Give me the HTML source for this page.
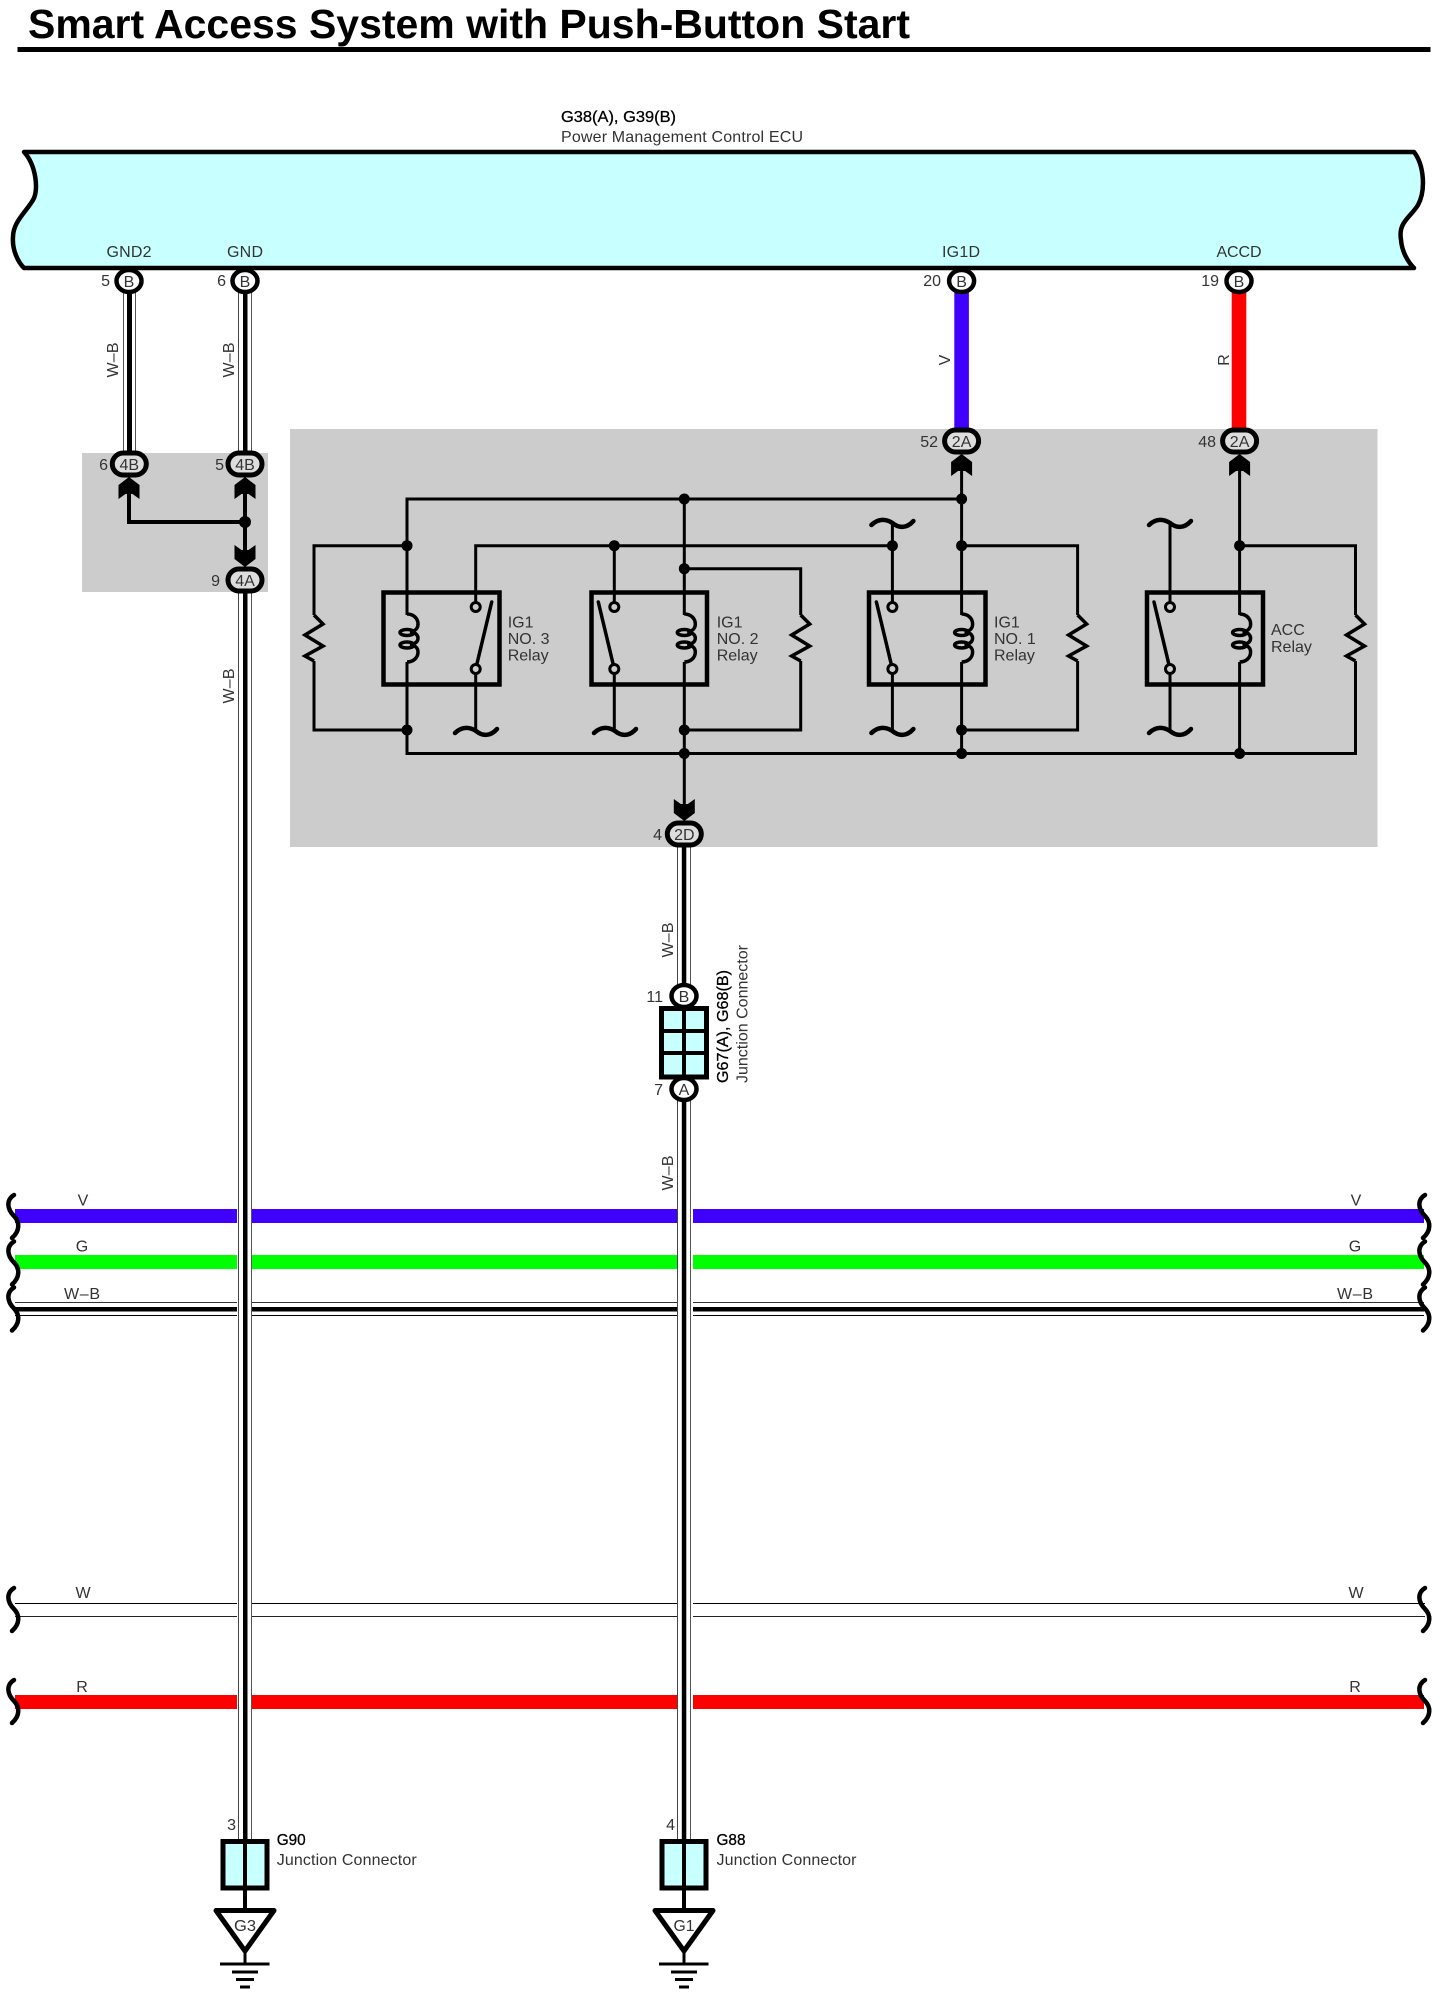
<!DOCTYPE html>
<html><head><meta charset="utf-8"><title>Smart Access System with Push-Button Start</title>
<style>
html,body{margin:0;padding:0;background:#fff}
svg{display:block}
text{font-family:"Liberation Sans",sans-serif;fill:#333;font-size:16px}
.w{fill:none;stroke:#000;stroke-width:3}
.d{fill:#000}
.s{fill:none;stroke:#000;stroke-width:4.5;stroke-linecap:round}
.m{text-anchor:middle}
.e{text-anchor:end}
</style></head><body>
<svg xmlns="http://www.w3.org/2000/svg" width="1443" height="1996" viewBox="0 0 1443 1996">
<defs>
<path id="ar" d="M0 0L10.5 8V22L3.5 17H-3.5L-10.5 22V8Z" fill="#000"/>
<path id="sq" class="s" d="M-21 2C-14 -5 -6 -4 0 0C6 5 14 6 21 -2"/>
<path id="br" class="s" d="M14 0C6 5 7 14 14 21C20 27 20 36 12 43"/>
<path id="rs" fill="none" stroke="#000" stroke-width="3.5" d="M0 0L9 9L-9 20L9 31L-9 41L0 46"/>
<g id="cl">
<path fill="none" stroke="#000" stroke-width="3.5" d="M0 0C6 0 11 4 11 10C11 15 8 17 3 18C8 18 11 21 11 24C11 28 8 30 3 31C8 31 11 34 11 38C11 44 6 48 0 48"/>
<ellipse cx="0" cy="18.5" rx="7" ry="3" fill="none" stroke="#000" stroke-width="3.5"/>
<ellipse cx="0" cy="31" rx="7" ry="3" fill="none" stroke="#000" stroke-width="3.5"/>
</g>
<g id="swL">
<line x1="0" y1="62" x2="-16" y2="-5" stroke="#000" stroke-width="3.5" stroke-linecap="round"/>
<circle cx="0" cy="0" r="4.5" fill="#ccc" stroke="#000" stroke-width="3"/>
<circle cx="0" cy="62" r="4.5" fill="#ccc" stroke="#000" stroke-width="3"/>
</g>
<g id="swR">
<line x1="0" y1="62" x2="16" y2="-5" stroke="#000" stroke-width="3.5" stroke-linecap="round"/>
<circle cx="0" cy="0" r="4.5" fill="#ccc" stroke="#000" stroke-width="3"/>
<circle cx="0" cy="62" r="4.5" fill="#ccc" stroke="#000" stroke-width="3"/>
</g>
</defs>

<!-- title -->
<text x="28" y="38" textLength="882" lengthAdjust="spacingAndGlyphs" style="font-size:41px;font-weight:bold;fill:#000">Smart Access System with Push-Button Start</text>
<rect x="17.5" y="47" width="1413" height="5" fill="#000"/>

<!-- ECU -->
<text x="561" y="122" textLength="115" lengthAdjust="spacingAndGlyphs" style="fill:#000;stroke:#000;stroke-width:.3">G38(A), G39(B)</text>
<text x="561" y="142" textLength="242">Power Management Control ECU</text>
<path d="M24 152H1414C1424 165 1426 190 1418 205C1410 218 1398 222 1401 240C1402 252 1408 262 1414 268H24C18 262 12 250 13 237C13 222 26 212 33 200C39 190 36 165 24 152Z" fill="#c8ffff" stroke="#000" stroke-width="4.5" stroke-linejoin="round"/>
<text x="129" y="257" class="m" textLength="45">GND2</text>
<text x="245" y="257" class="m" textLength="36">GND</text>
<text x="961" y="257" class="m" textLength="38">IG1D</text>
<text x="1239" y="257" class="m" textLength="45">ACCD</text>

<!-- gray boxes -->
<rect x="82" y="453" width="186" height="139" fill="#ccc"/>
<rect x="290" y="429" width="1087.5" height="418" fill="#ccc"/>

<!-- horizontal bus -->
<g>
<rect x="15" y="1209" width="1409" height="14" fill="#4000ff"/>
<rect x="15" y="1255" width="1409" height="14" fill="#00ff00"/>
<rect x="15" y="1302" width="1409" height="1" fill="#333"/>
<rect x="15" y="1307" width="1409" height="4.5" fill="#000"/>
<rect x="15" y="1315" width="1409" height="1" fill="#000"/>
<rect x="15" y="1603" width="1410" height="1" fill="#000"/>
<rect x="15" y="1616" width="1410" height="1" fill="#222"/>
<rect x="15" y="1695" width="1409" height="14" fill="#ff0000"/>
<rect x="237" y="1195" width="15" height="540" fill="#fff"/>
<rect x="679" y="1195" width="14" height="540" fill="#fff"/>
</g>
<use href="#br" x="0" y="1195"/><use href="#br" x="0" y="1241.5"/><use href="#br" x="0" y="1287.5"/><use href="#br" x="0" y="1588"/><use href="#br" x="0" y="1680"/>
<use href="#br" x="1411" y="1195"/><use href="#br" x="1411" y="1241.5"/><use href="#br" x="1411" y="1287.5"/><use href="#br" x="1411" y="1588"/><use href="#br" x="1411" y="1680"/>
<text x="83" y="1205.5" class="m">V</text><text x="82" y="1251.5" class="m">G</text><text x="82" y="1299" class="m" textLength="36">W–B</text><text x="83" y="1598" class="m">W</text><text x="82" y="1692" class="m">R</text>
<text x="1356" y="1205.5" class="m">V</text><text x="1355" y="1251.5" class="m">G</text><text x="1355" y="1299" class="m" textLength="36">W–B</text><text x="1356" y="1598" class="m">W</text><text x="1355" y="1692" class="m">R</text>

<!-- double wires -->
<g>
<rect x="123" y="281" width="13" height="183" fill="#fff"/><rect x="123" y="281" width="1" height="183" fill="#555"/><rect x="135" y="281" width="1" height="183" fill="#555"/><rect x="127" y="281" width="5" height="183" fill="#000"/>
<rect x="238" y="281" width="14" height="183" fill="#fff"/><rect x="238" y="281" width="1" height="183" fill="#444"/><rect x="251" y="281" width="1" height="183" fill="#555"/><rect x="243" y="281" width="4.5" height="183" fill="#000"/>
<rect x="238" y="590" width="14" height="1250" fill="#fff"/><rect x="238" y="590" width="1" height="1250" fill="#444"/><rect x="251" y="590" width="1" height="1250" fill="#555"/><rect x="243" y="590" width="4.5" height="1250" fill="#000"/>
<rect x="677" y="845" width="14" height="995" fill="#fff"/><rect x="677" y="845" width="1" height="995" fill="#444"/><rect x="690" y="845" width="1" height="995" fill="#555"/><rect x="681.8" y="845" width="4.5" height="995" fill="#000"/>
</g>
<rect x="954.3" y="290" width="14.6" height="140" fill="#4000ff"/>
<rect x="1231.7" y="290" width="14.6" height="140" fill="#ff0000"/>
<text transform="translate(118,360) rotate(-90)" class="m" textLength="35">W–B</text>
<text transform="translate(234,360) rotate(-90)" class="m" textLength="35">W–B</text>
<text transform="translate(234,686) rotate(-90)" class="m" textLength="35">W–B</text>
<text transform="translate(673,940) rotate(-90)" class="m" textLength="35">W–B</text>
<text transform="translate(673,1173) rotate(-90)" class="m" textLength="35">W–B</text>
<text transform="translate(950,360) rotate(-90)" class="m">V</text>
<text transform="translate(1229,360) rotate(-90)" class="m">R</text>

<!-- top pins -->
<g fill="#fff" stroke="#000" stroke-width="4.5">
<ellipse cx="129" cy="281" rx="12.5" ry="11"/><ellipse cx="245" cy="281" rx="12.5" ry="11"/><ellipse cx="961.6" cy="281" rx="12.5" ry="11"/><ellipse cx="1239" cy="281" rx="12.5" ry="11"/>
</g>
<text x="129" y="287" class="m">B</text><text x="245" y="287" class="m">B</text><text x="961.6" y="287" class="m">B</text><text x="1239" y="287" class="m">B</text>
<text x="110" y="286" class="e">5</text><text x="226" y="286" class="e">6</text><text x="941" y="286" class="e">20</text><text x="1219" y="286" class="e">19</text>

<!-- left gray wiring -->
<path class="w" style="stroke-width:4" d="M129 490V522H245M245 490V556"/>
<circle cx="245" cy="522" r="6" class="d"/>
<use href="#ar" x="129" y="477"/><use href="#ar" x="245" y="477"/>
<g transform="translate(245,567) scale(1,-1)"><use href="#ar"/></g>

<!-- relay wiring -->
<g class="w">
<path d="M407 615V499H961.6M407 662V753.5H1355.5V661M1355.5 615V545.7H1239.6"/>
<path d="M407 545.7H314V615M314 661V730H407"/>
<path d="M475.7 607V545.7H892.4"/>
<path d="M684.3 499V615M684.3 662V810"/>
<path d="M684.3 568.7H800.7V615M800.7 661V730H684.3"/>
<path d="M961.6 470V615M961.6 662V753.5"/>
<path d="M961.6 545.7H1077.6V615M1077.6 661V730H961.6"/>
<path d="M1239.6 470V615M1239.6 662V753.5"/>
<path d="M892.4 522V607M1170 522V607"/>
<path d="M614.3 545.7V607"/>
<path d="M475.7 669V730M614.3 669V730M892.4 669V730M1170 669V730"/>
</g>
<g fill="none" stroke="#000" stroke-width="4.5">
<rect x="383.5" y="592.5" width="116" height="92"/>
<rect x="591.5" y="592.5" width="115.5" height="92"/>
<rect x="869" y="592.5" width="116.5" height="92"/>
<rect x="1147" y="592.5" width="116" height="92"/>
</g>
<use href="#cl" x="407" y="614"/><use href="#cl" x="684.3" y="614"/><use href="#cl" x="961.6" y="614"/><use href="#cl" x="1239.6" y="614"/>
<use href="#swR" x="475.7" y="607"/><use href="#swL" x="614.3" y="607"/><use href="#swL" x="892.4" y="607"/><use href="#swL" x="1170" y="607"/>
<use href="#rs" x="314" y="615"/><use href="#rs" x="800.7" y="615"/><use href="#rs" x="1077.6" y="615"/><use href="#rs" x="1355.5" y="615"/>
<use href="#sq" x="476" y="731"/><use href="#sq" x="615" y="731"/><use href="#sq" x="892.4" y="731"/><use href="#sq" x="1170" y="731"/>
<use href="#sq" x="892.4" y="523"/><use href="#sq" x="1170" y="523"/>
<g class="d">
<circle cx="684.3" cy="499" r="5.5"/><circle cx="961.6" cy="499" r="5.5"/>
<circle cx="407" cy="545.7" r="5.5"/><circle cx="614.3" cy="545.7" r="5.5"/><circle cx="892.4" cy="545.7" r="5.5"/><circle cx="961.6" cy="545.7" r="5.5"/><circle cx="1239.6" cy="545.7" r="5.5"/>
<circle cx="684.3" cy="568.7" r="5.5"/>
<circle cx="407" cy="730" r="5.5"/><circle cx="684.3" cy="730" r="5.5"/><circle cx="961.6" cy="730" r="5.5"/>
<circle cx="684.3" cy="753.5" r="5.5"/><circle cx="961.6" cy="753.5" r="5.5"/><circle cx="1239.6" cy="753.5" r="5.5"/>
</g>
<use href="#ar" x="961.6" y="454"/><use href="#ar" x="1239.6" y="454"/>
<g transform="translate(684.3,821) scale(1,-1)"><use href="#ar"/></g>

<text x="507.7" y="627.5">IG1</text><text x="507.7" y="644">NO. 3</text><text x="507.7" y="660.5">Relay</text>
<text x="716.7" y="627.5">IG1</text><text x="716.7" y="644">NO. 2</text><text x="716.7" y="660.5">Relay</text>
<text x="994" y="627.5">IG1</text><text x="994" y="644">NO. 1</text><text x="994" y="660.5">Relay</text>
<text x="1271" y="635">ACC</text><text x="1271" y="652">Relay</text>

<!-- ovals -->
<g fill="#ddd" stroke="#000" stroke-width="5">
<rect x="112.3" y="453" width="34" height="22" rx="11"/>
<rect x="228" y="453" width="34" height="22" rx="11"/>
<rect x="228" y="569" width="34" height="22" rx="11"/>
<rect x="944.6" y="430" width="34" height="22" rx="11"/>
<rect x="1222.6" y="430" width="34" height="22" rx="11"/>
<rect x="667.3" y="823" width="34" height="22" rx="11"/>
</g>
<text x="129.3" y="470" class="m">4B</text><text x="245" y="470" class="m">4B</text><text x="245" y="586" class="m">4A</text><text x="961.6" y="447" class="m">2A</text><text x="1239.6" y="447" class="m">2A</text><text x="684.3" y="840" class="m">2D</text>
<text x="108" y="470" class="e">6</text><text x="224" y="470" class="e">5</text><text x="220" y="586" class="e">9</text><text x="938" y="447" class="e">52</text><text x="1216" y="447" class="e">48</text><text x="662" y="840" class="e">4</text>

<!-- G67 junction -->
<rect x="661.5" y="1008.5" width="45" height="68.5" fill="#c8ffff" stroke="#000" stroke-width="5"/>
<path d="M684 1008V1077M661 1031H707M661 1053H707" stroke="#000" stroke-width="4" fill="none"/>
<ellipse cx="684" cy="996" rx="12.5" ry="11" fill="#fff" stroke="#000" stroke-width="4.5"/>
<ellipse cx="684" cy="1089" rx="12.5" ry="11" fill="#fff" stroke="#000" stroke-width="4.5"/>
<text x="684" y="1002" class="m">B</text><text x="684" y="1095" class="m">A</text>
<text x="663" y="1002" class="e">11</text><text x="663" y="1095" class="e">7</text>
<text transform="translate(728,1083) rotate(-90)" textLength="113" lengthAdjust="spacingAndGlyphs" style="fill:#000;stroke:#000;stroke-width:.3">G67(A), G68(B)</text>
<text transform="translate(747.5,1083) rotate(-90)" textLength="138">Junction Connector</text>

<!-- G90 -->
<rect x="223" y="1841.5" width="44" height="46.5" fill="#c8ffff" stroke="#000" stroke-width="5"/>
<path d="M245 1820V1910" stroke="#000" stroke-width="4"/>
<path d="M216 1910.5H274L245 1951Z" fill="#fff" stroke="#000" stroke-width="5" stroke-linejoin="round"/>
<path d="M245 1951V1964M220 1964H269.5M232 1972H258M236 1979.5H254M240 1987H250" stroke="#000" stroke-width="3" fill="none"/>
<text x="245" y="1931" class="m" textLength="22" lengthAdjust="spacingAndGlyphs">G3</text>
<text x="236" y="1830" class="e">3</text>
<text x="276.7" y="1845" textLength="29" lengthAdjust="spacingAndGlyphs" style="fill:#000;stroke:#000;stroke-width:.3">G90</text>
<text x="276.7" y="1865" textLength="140">Junction Connector</text>

<!-- G88 -->
<rect x="662" y="1841.5" width="44" height="46.5" fill="#c8ffff" stroke="#000" stroke-width="5"/>
<path d="M684 1820V1910" stroke="#000" stroke-width="4"/>
<path d="M655 1910.5H713L684 1951Z" fill="#fff" stroke="#000" stroke-width="5" stroke-linejoin="round"/>
<path d="M684 1951V1964M659 1964H708.5M671 1972H697M675 1979.5H693M679 1987H689" stroke="#000" stroke-width="3" fill="none"/>
<text x="684" y="1931" class="m" textLength="21" lengthAdjust="spacingAndGlyphs">G1</text>
<text x="675" y="1830" class="e">4</text>
<text x="716.5" y="1845" textLength="29" lengthAdjust="spacingAndGlyphs" style="fill:#000;stroke:#000;stroke-width:.3">G88</text>
<text x="716.5" y="1865" textLength="140">Junction Connector</text>
</svg>
</body></html>
